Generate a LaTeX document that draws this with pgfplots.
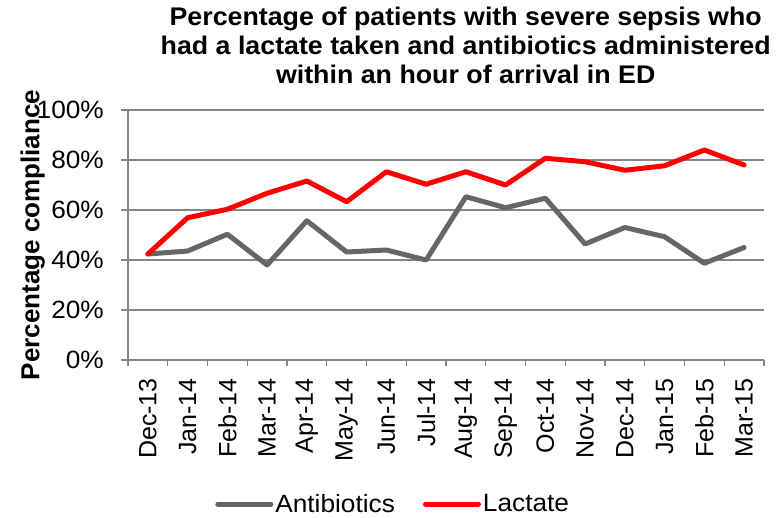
\documentclass[border=0pt]{standalone}
\usepackage{fontspec}
\setmainfont{Liberation Sans}[FakeStretch=1.05]
\newfontfamily\rotfont{Liberation Sans}
\usepackage{pgfplots}
\pgfplotsset{compat=1.18}
\definecolor{antib}{RGB}{102,102,102}
\definecolor{lact}{RGB}{255,0,0}
\definecolor{gridc}{RGB}{134,134,134}
\newcommand\fs{\fontsize{25}{29}\selectfont}
\begin{document}
\begin{tikzpicture}
\useasboundingbox (-128pt,-157pt) rectangle (653pt,360pt);
\begin{axis}[
  at={(0pt,0pt)}, anchor=south west,
  scale only axis, width=636pt, height=250pt,
  xmin=-0.5, xmax=15.5, ymin=0, ymax=100,
  axis x line*=bottom, axis y line*=left,
  axis line style={gridc, line width=1.2pt, -},
  tick align=outside,
  xtick={0,...,15},
  xticklabels={Dec-13,Jan-14,Feb-14,Mar-14,Apr-14,May-14,Jun-14,Jul-14,Aug-14,Sep-14,Oct-14,Nov-14,Dec-14,Jan-15,Feb-15,Mar-15},
  minor xtick={-0.5,0.5,...,15.5},
  major x tick style={draw=none},
  minor x tick style={draw=gridc, line width=1.2pt},
  minor tick length=6pt,
  major tick length=7pt,
  ytick={0,20,40,60,80,100},
  yticklabels={0\%,20\%,40\%,60\%,80\%,100\%},
  ytick style={draw=gridc, line width=1.2pt},
  ymajorgrids, grid style={gridc, line width=1.2pt},
  xticklabel shift=11pt,
  yticklabel shift=17pt,
  xticklabel style={rotate=90, anchor=east, font=\rotfont\fs, inner sep=0pt},
  yticklabel style={anchor=east, font=\fs, inner sep=0pt},
  title={Percentage of patients with severe sepsis who\\had a lactate taken and antibiotics administered\\within an hour of arrival in ED},
  title style={at={(axis description cs:0.531,1)}, anchor=north, yshift=96.8pt, align=center, font=\bfseries\fontsize{25.5}{29}\selectfont, inner sep=0pt},
  ylabel={Percentage compliance},
  every axis y label/.style={at={(axis description cs:-0.1395,0.5)}, rotate=90, anchor=base, font=\rotfont\bfseries\fontsize{26}{29}\selectfont, inner sep=0pt},
  legend style={at={(axis description cs:0.417,-0.576)}, anchor=center, draw=none, fill=none, font=\fs, legend columns=2, /tikz/every even column/.append style={column sep=26pt}, inner sep=0pt},
  legend image code/.code={\draw[#1, line width=5pt, line cap=round] (0pt,0pt) -- (53pt,0pt);},
]
\addplot[antib, line width=5pt, line join=round, line cap=round] coordinates {
(0,42.4) (1,43.6) (2,50.3) (3,38.0) (4,55.7) (5,43.2) (6,44.0) (7,40.0) (8,65.3) (9,60.9) (10,64.7) (11,46.4) (12,53.0) (13,49.3) (14,38.7) (15,45.0)};
\addlegendentry{Antibiotics}
\addplot[lact, line width=5pt, line join=round, line cap=round] coordinates {
(0,42.4) (1,56.9) (2,60.3) (3,66.7) (4,71.6) (5,63.3) (6,75.3) (7,70.3) (8,75.3) (9,70.0) (10,80.7) (11,79.3) (12,75.9) (13,77.7) (14,84.0) (15,78.0)};
\addlegendentry{Lactate}
\end{axis}
\end{tikzpicture}
\end{document}
